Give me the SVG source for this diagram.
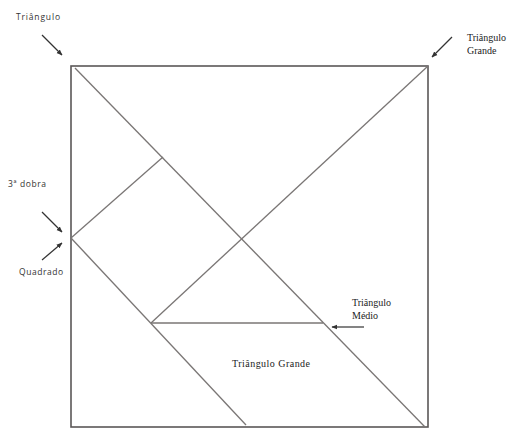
<svg xmlns="http://www.w3.org/2000/svg" width="511" height="429" viewBox="0 0 511 429">
<style>
.ln{stroke:#7a7675;stroke-width:1.3;fill:none}
.bd{stroke:#5a5757;stroke-width:1.6;fill:none}
.ar{stroke:#333;stroke-width:1.2;fill:none;marker-end:url(#ah)}
.sans{font-family:"Open Sans","Liberation Sans",sans-serif;font-size:8.5px;fill:#333}
.serif{font-family:"Liberation Serif","Times New Roman",serif;font-size:10px;fill:#222}
</style>
<defs>
<marker id="ah" viewBox="0 0 10 10" refX="9" refY="5" markerWidth="6" markerHeight="6" orient="auto" markerUnits="userSpaceOnUse">
<path d="M0,1 L10,5 L0,9 z" fill="#333"/>
</marker>
</defs>
<rect id="bg" x="0" y="0" width="511" height="429" fill="#ffffff"/>
<g id="square-sheet">
<rect class="bd" x="71" y="66" width="357" height="361"/>
</g>
<g id="connectors">
<line class="ln" x1="75" y1="68" x2="425" y2="427"/>
<line class="ln" x1="428" y1="66" x2="151" y2="323"/>
<line class="ln" x1="151" y1="323" x2="323" y2="323"/>
<line class="ln" x1="71" y1="238" x2="163" y2="157"/>
<line class="ln" x1="71" y1="238" x2="246" y2="425"/>
</g>
<g id="label-triangulo">
<text class="sans" x="16" y="20" textLength="44">Triângulo</text>
<line class="ar" x1="42" y1="35" x2="62" y2="55"/>
</g>
<g id="label-triangulo-grande-top">
<text class="serif" x="467" y="41">Triângulo</text>
<text class="serif" x="467" y="54">Grande</text>
<line class="ar" x1="452" y1="37" x2="432" y2="57"/>
</g>
<g id="label-3a-dobra">
<text class="sans" x="8" y="187" textLength="38">3ª dobra</text>
<line class="ar" x1="42" y1="212" x2="62" y2="232"/>
</g>
<g id="label-quadrado">
<text class="sans" x="19" y="275" textLength="44">Quadrado</text>
<line class="ar" x1="42" y1="260" x2="62" y2="243"/>
</g>
<g id="label-triangulo-medio">
<text class="serif" x="352" y="306">Triângulo</text>
<text class="serif" x="352" y="319">Médio</text>
<line class="ar" x1="364" y1="327" x2="332" y2="327"/>
</g>
<g id="label-triangulo-grande-bottom">
<text class="serif" x="232" y="367" textLength="78">Triângulo Grande</text>
</g>
</svg>
